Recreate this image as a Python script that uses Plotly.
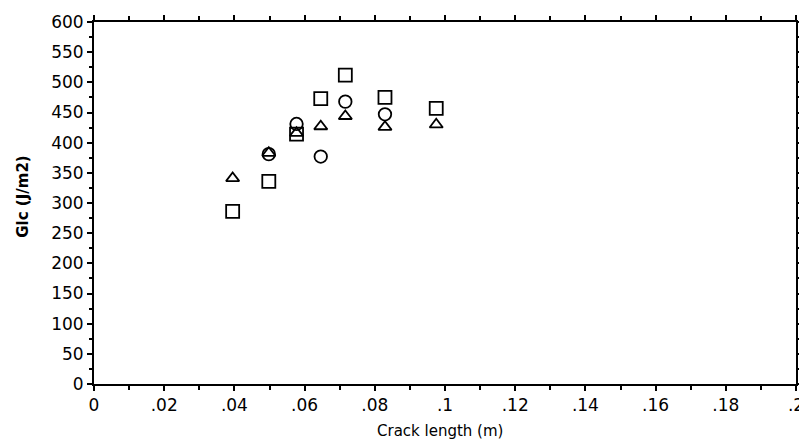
import plotly.graph_objects as go

# Data
crack_length = [0.0395, 0.0498, 0.0577, 0.0646, 0.0716, 0.0829, 0.0975]
gic_square = [286, 336, 414, 473, 512, 475, 457]
gic_triangle = [341, 383, 416, 427, 444, 426, 430]
crack_length_circle = [0.0498, 0.0577, 0.0646, 0.0716, 0.0829]
gic_circle = [381, 431, 377, 468, 447]

x_tickvals = [0, 0.02, 0.04, 0.06, 0.08, 0.1, 0.12, 0.14, 0.16, 0.18, 0.2]
x_ticktext = ["0", ".02", ".04", ".06", ".08", ".1", ".12", ".14", ".16", ".18", ".2"]
y_tickvals = [0, 50, 100, 150, 200, 250, 300, 350, 400, 450, 500, 550, 600]

FONT = "DejaVu Sans"
mk_line = dict(color="black", width=1.8)

fig = go.Figure()
fig.add_trace(go.Scatter(x=crack_length, y=gic_square, mode="markers",
                         marker=dict(symbol="square-open", size=13, color="black", line=mk_line),
                         showlegend=False))
fig.add_trace(go.Scatter(x=crack_length, y=gic_triangle, mode="markers",
                         marker=dict(symbol="triangle-up-open", size=11.5, color="black", line=mk_line),
                         showlegend=False))
fig.add_trace(go.Scatter(x=crack_length_circle, y=gic_circle, mode="markers",
                         marker=dict(symbol="circle-open", size=12.5, color="black", line=mk_line),
                         showlegend=False))

axis_common = dict(showgrid=False, zeroline=False, showline=True, linecolor="black",
                   linewidth=2, ticks="outside", tickcolor="black", tickwidth=1.5,
                   ticklen=5, mirror="ticks",
                   tickfont=dict(family=FONT, size=17, color="black"))

fig.update_xaxes(range=[0, 0.2], tickmode="array", tickvals=x_tickvals, ticktext=x_ticktext,
                 minor=dict(dtick=0.01, ticks="outside", ticklen=4, tickcolor="black", tickwidth=1.5),
                 **axis_common)
fig.update_yaxes(range=[0, 600], tickmode="array", tickvals=y_tickvals,
                 minor=dict(dtick=25, ticks="outside", ticklen=3, tickcolor="black", tickwidth=1.5),
                 **axis_common)

# page has an 8px body margin, so the figure is offset by 8px in the window
OFF = 8
PL, PR, PT, PB = 94, 803, 22, 384  # plot area in window pixels
W, H = 807 - OFF, 446 - OFF

fig.add_annotation(text="Crack length (m)", xref="paper", yref="paper",
                   x=(443 - PL) / (PR - PL), y=-(431 - PB) / (PB - PT), showarrow=False,
                   font=dict(family=FONT, size=15, color="black"),
                   xanchor="center", yanchor="middle")
fig.add_annotation(text="<b>Glc (J/m2)</b>", xref="paper", yref="paper",
                   x=-(PL - 22) / (PR - PL), y=(PB - 197) / (PB - PT), showarrow=False, textangle=-90,
                   font=dict(family=FONT, size=15, color="black"),
                   xanchor="center", yanchor="middle")

fig.update_layout(width=W, height=H,
                  margin=dict(l=PL - OFF, r=807 - PR, t=PT - OFF, b=446 - PB),
                  paper_bgcolor="white", plot_bgcolor="white",
                  font=dict(family=FONT, color="black"))

fig.write_html("out.html")
